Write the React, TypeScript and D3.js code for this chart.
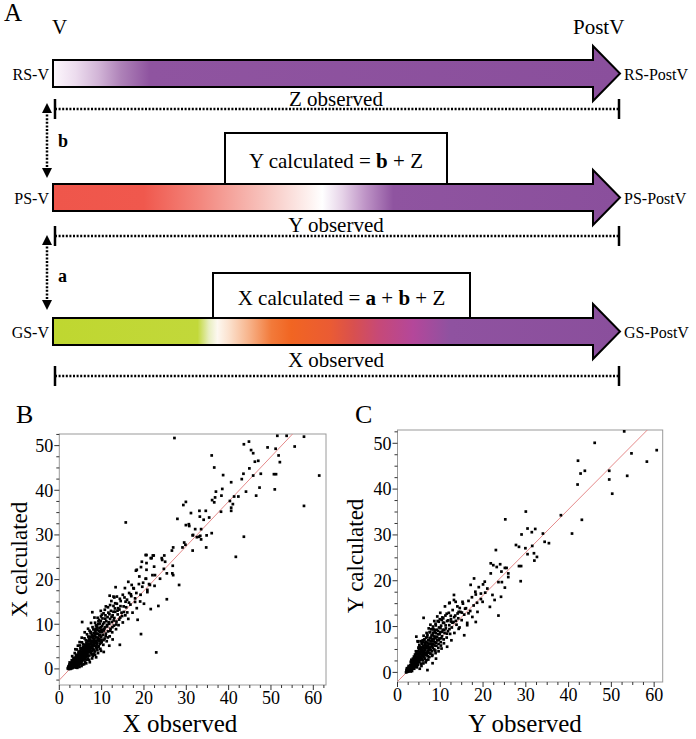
import React from 'react';
import * as d3 from 'd3';

const FONT = 'Liberation Serif';
const PURPLE = '#8a4f9c';

// ---------- Panel A content ----------
const STAGE_LABELS = ['V', 'PostV'];
const ROW_LEFT = ['RS-V', 'PS-V', 'GS-V'];
const ROW_RIGHT = ['RS-PostV', 'PS-PostV', 'GS-PostV'];
const ROW_OBSERVED = ['Z observed', 'Y observed', 'X observed'];
const STEP_LABELS = ['b', 'a'];

// gradient stops: [position along arrow 0..1, colour]
const RS_STOPS: [number, string][] = [
  [0, '#fdf8fd'], [0.04, '#ecdcee'], [0.08, '#d2b5d7'], [0.12, '#ae82b8'], [0.17, '#8f54a0'], [1, PURPLE],
];
const PS_STOPS: [number, string][] = [
  [0, '#ef564b'], [0.16, '#f0584d'], [0.26, '#f3877e'], [0.37, '#f7c2bc'], [0.45, '#fdf0ee'], [0.475, '#ffffff'],
  [0.51, '#e6d3e8'], [0.55, '#bf95c7'], [0.6, '#8f54a0'], [1, PURPLE],
];
const GS_STOPS: [number, string][] = [
  [0, '#bfd730'], [0.255, '#c2d83a'], [0.275, '#e8eec0'], [0.29, '#fdf8f0'], [0.31, '#fbe2cf'], [0.345, '#f7b48c'],
  [0.385, '#f27a3a'], [0.42, '#f16522'], [0.49, '#ea5b34'], [0.53, '#d8504f'], [0.575, '#c64978'], [0.635, '#b4479a'],
  [0.7, '#8f52a0'], [1, PURPLE],
];

// ---------- Scatter data ----------
const B_POINTS: [number, number][] = [
  [27.2,51.7],[15.7,32.8],[29.3,36.7],[29.9,37.4],[27.9,33.6],[31.1,34.9],[29.9,32.2],[30.6,32.4],[30.7,32.0],[31.6,30.0],
  [29.5,28.3],[29.8,27.8],[26.9,27.2],[29.1,27.2],[26.6,26.5],[31.5,26.5],[20.6,25.5],[22.3,25.4],[21.6,24.8],[24.2,24.8],[24.8,25.4],
  [51.5,52.2],[53.7,52.2],[57.8,52.0],[44.8,50.9],[43.6,50.3],[49.2,49.6],[55.6,49.8],[45.3,49.0],[45.8,48.3],[51.1,49.3],
  [51.8,47.8],[36.0,47.8],[46.2,46.4],[47.0,46.6],[52.1,46.3],[36.6,45.1],[44.9,44.9],[38.7,43.4],[43.5,43.7],[47.6,43.7],
  [45.8,43.3],[50.7,43.6],[51.2,43.6],[61.4,43.3],[43.1,42.5],[40.6,41.8],[38.5,40.3],[37.0,39.7],[44.1,39.7],[47.3,40.6],
  [50.9,40.2],[38.3,38.8],[36.8,38.4],[46.5,38.8],[41.3,38.6],[42.3,38.6],[36.1,37.8],[36.6,37.3],[40.3,37.6],[41.0,36.9],
  [40.6,36.1],[40.6,35.4],[57.8,36.5],[38.2,35.2],[33.1,35.4],[34.6,35.4],[33.2,34.1],[35.4,33.9],[34.1,33.4],[32.1,31.3],
  [33.5,31.3],[31.5,29.9],[32.5,29.5],[33.0,29.6],[33.3,29.8],[34.8,29.9],[36.0,30.4],[33.5,29.0],[43.6,29.6],[34.7,27.2],[41.7,25.1],
  [28.3,18.8],[19.3,7.8],[22.9,3.7],[25.4,15.6],[23.4,14.1],[14.3,5.4],[21.8,24.8],[24.3,24.4],[25.0,24.0],[26.7,21.4],[26.9,21.0],
  [18.1,22.0],[19.3,22.8],[20.6,22.2],[13.3,18.3],[11.9,16.4],[12.8,16.2],[5.4,10.5],[7.8,12.7],
  [20.4,25.5],[22.1,25.4],[19.5,24.0],[20.6,23.7],[22.4,22.9],[24.7,22.4],[22.6,21.0],[23.8,20.2],[25.4,21.4],[26.8,23.1],
  [18.3,22.2],[18.9,20.7],[20.5,20.2],[21.4,18.8],[20.8,17.7],[19.8,19.3],[17.5,18.1],[16.9,16.7],[17.9,15.8],[19.1,15.1],
  [18.3,13.6],[15.5,18.1],[15.0,16.6],[14.3,15.7],[16.3,19.5],[17.1,18.8],[13.6,16.2],[13.2,14.7],[13.9,13.6],[12.8,12.8],[12.0,14.3],
];
const B_CORE: [number, number][] = [
  [2.0,0.1],[2.1,0.3],[2.2,0.0],[2.3,0.5],[2.4,0.2],[2.5,0.8],[2.5,0.1],[2.6,0.4],[2.7,1.0],[2.8,0.3],[2.8,0.7],[2.9,1.3],
  [3.0,0.5],[3.0,1.0],[3.1,0.2],[3.2,1.5],[3.2,0.8],[3.3,1.1],[3.4,0.4],[3.4,1.8],[3.5,1.3],[3.5,0.7],[3.6,2.1],[3.6,1.0],
  [3.7,1.6],[3.8,0.6],[3.8,2.4],[3.9,1.3],[4.0,1.9],[4.0,1.0],[4.1,2.8],[4.1,0.5],[4.2,1.6],[4.3,2.2],[4.3,3.2],[4.4,1.2],
  [4.5,2.6],[4.5,1.8],[4.6,0.8],[4.6,3.5],[4.7,2.1],[4.8,2.9],[4.8,1.5],[4.9,4.0],[5.0,2.4],[5.0,3.3],[5.1,1.2],[5.1,2.0],
  [5.2,3.7],[5.3,2.8],[5.3,4.5],[5.4,1.8],[5.5,3.2],[5.5,2.4],[5.6,5.0],[5.6,3.9],[5.7,2.0],[5.8,3.5],[5.8,4.3],[5.9,2.8],
  [6.0,3.1],[6.0,5.4],[6.1,4.0],[6.1,1.6],[6.2,3.6],[6.3,4.7],[6.3,2.6],[6.4,5.9],[6.5,3.9],[6.5,3.2],[6.6,4.4],[6.7,6.3],
  [6.7,2.3],[6.8,5.1],[6.9,3.7],[7.0,4.6],[7.0,6.8],[7.1,3.0],[7.2,5.5],[7.2,4.1],[7.3,7.2],[7.4,5.0],[7.5,3.6],[7.5,6.1],
  [7.6,4.6],[7.7,7.6],[7.8,5.4],[7.9,2.9],[8.0,6.0],[8.0,4.4],[8.1,8.0],[8.2,5.6],[8.3,6.8],[8.4,3.9],[8.5,5.2],[8.5,7.4],
  [8.6,9.0],[8.7,6.3],[8.8,4.6],[8.9,7.9],[9.0,5.8],[9.0,8.7],[9.1,6.8],[9.2,10.0],[9.3,5.1],[9.4,7.5],[9.5,9.2],[9.5,6.3],
  [9.6,8.2],[9.7,4.5],[9.8,10.7],[9.9,7.2],[10.0,8.8],[10.0,6.0],[10.1,9.6],[10.2,11.3],[10.3,7.6],[10.4,5.4],[10.5,8.6],
  [10.6,10.4],[10.7,6.8],[10.8,9.3],[10.9,12.0],[11.0,7.9],[11.1,10.7],[11.2,6.2],[11.3,9.5],[11.4,11.6],[11.5,8.4],[11.6,12.6],
  [11.8,10.1],[11.9,7.3],[12.0,11.2],[12.1,9.0],[12.2,13.0],[12.4,10.5],[12.5,8.2],[12.6,12.0],[12.8,14.1],[12.9,9.7],[13.0,11.4],
  [13.2,12.8],[13.4,8.9],[13.5,10.6],[13.6,14.6],[13.8,12.2],[14.0,9.8],[14.2,13.3],[14.4,11.5],[14.5,15.2],[14.7,12.6],[15.0,10.4],
  [15.2,14.0],[15.4,16.0],[15.6,12.0],[15.8,13.8],[16.0,15.5],[16.3,11.2],[16.5,17.0],[16.8,14.4],[17.0,16.3],[17.3,12.6],[17.6,18.0],
  [17.9,15.0],[18.2,17.0],[18.5,11.0],[18.8,19.0],[19.2,16.6],[19.6,18.4],[20.0,14.6],[20.4,20.2],[20.8,17.2],[21.2,19.0],[21.6,13.4],
  [22.0,21.0],[22.5,18.6],
  [2.2,0.6],[2.4,1.0],[2.6,0.0],[2.9,0.2],[3.1,1.7],[3.3,0.6],[3.5,2.0],[3.7,0.9],[3.9,2.6],[4.0,0.3],[4.2,2.3],[4.4,3.0],
  [4.5,1.4],[4.7,3.8],[4.9,1.9],[5.0,4.6],[5.2,2.6],[5.4,3.4],[5.5,1.0],[5.7,4.8],[5.9,3.8],[6.0,2.2],[6.2,5.0],[6.4,3.4],
  [6.6,5.6],[6.8,2.8],[6.9,4.8],[7.1,6.3],[7.3,3.8],[7.4,8.0],[7.6,5.6],[7.8,4.0],[8.0,7.0],[8.2,3.4],[8.4,8.6],[8.6,5.8],
  [8.8,9.6],[9.0,4.2],[9.2,7.0],[9.4,11.0],[9.6,5.6],[9.8,8.6],[4.8,6.0],[5.3,7.0],[6.0,8.2],[6.8,9.0],[7.5,10.3],[8.3,11.5],
  [3.8,4.4],[4.4,5.2],[9.8,13.0],[11.0,14.0],[10.5,3.8],[11.8,5.2],[12.6,6.6],[8.7,2.6],[7.2,1.5],[11.5,13.8],[12.3,15.2],[13.0,16.0],
  [2.15,0.25],[2.35,0.75],[2.55,0.45],[2.75,0.15],[2.85,1.15],[3.05,0.75],[3.15,1.35],[3.25,0.35],[3.45,1.05],[3.55,1.65],
  [3.65,0.45],[3.75,1.95],[3.85,1.05],[3.95,1.75],[4.05,2.25],[4.15,1.25],[4.25,2.75],[4.35,0.95],[4.45,2.15],[4.55,3.15],
  [4.65,1.65],[4.75,2.55],[4.85,3.35],[4.95,1.25],[5.05,2.85],[5.15,3.65],[5.25,1.55],[5.35,3.05],[5.45,4.05],[5.55,2.15],
  [5.65,3.45],[5.75,4.45],[5.85,2.45],[5.95,4.85],[6.05,3.55],[6.15,2.85],[6.25,4.35],[6.35,5.25],[6.45,2.05],[6.55,4.65],
  [6.65,3.45],[6.75,5.65],[6.85,4.15],[6.95,6.15],[7.05,5.15],[7.15,3.95],[7.25,6.55],[7.35,4.55],[7.45,5.75],[7.55,7.05],
  [7.65,3.25],[7.75,6.35],[7.85,4.85],[7.95,7.35],[8.05,5.25],[8.15,6.55],[8.25,4.25],[8.35,7.85],[8.45,6.05],[8.55,8.35],
  [8.65,4.85],[8.75,7.05],[8.85,5.45],[8.95,9.25],[9.05,6.35],[9.15,7.85],[9.25,4.85],[9.35,8.55],[9.45,6.65],[9.55,10.15],
  [9.65,7.55],[9.75,5.85],[9.85,9.35],[9.95,6.55],[10.15,8.25],[10.35,10.05],[10.45,6.45],[10.65,8.95],[10.85,11.25],[10.95,7.35],
  [11.25,9.85],[11.45,7.05],[11.65,10.45],[11.85,12.25],[12.05,8.55],[12.35,11.65],[12.55,9.35],[12.85,10.85],[13.15,13.55],
  [13.45,9.95],[13.75,13.05],[14.15,11.05],[14.45,14.05],[14.85,11.85],[15.25,12.75],[15.65,15.05],[16.05,12.65],[16.45,14.85],
  [3.35,2.45],[3.95,3.05],[4.55,3.85],[5.15,4.55],[5.65,5.55],[6.25,6.45],[6.85,7.25],[7.45,8.25],[8.05,8.85],[8.65,9.75],
  [9.25,10.65],[9.85,11.75],[10.45,12.45],[2.45,1.45],[2.95,1.95],[3.05,2.85],[3.65,3.55],[4.15,4.35],[4.85,5.25],[5.35,5.95],
  [5.95,6.85],[6.55,7.75],[7.15,8.55],[7.85,9.35],[8.45,10.35],[9.05,11.45],[10.05,12.15],[10.75,13.25],[6.35,1.25],[7.05,2.05],
  [7.75,2.35],[8.45,3.15],[9.15,3.55],[9.85,4.05],[5.85,1.05],[5.25,0.65],[4.75,0.45],[4.25,0.25],
];
const C_POINTS: [number, number][] = [
  [53.0,52.6],[46.1,50.1],[60.6,48.5],[54.7,47.8],[58.3,46.0],[42.2,46.2],[42.8,43.4],[43.8,44.0],[49.5,44.0],[53.7,42.9],
  [49.5,42.1],[42.1,41.0],[50.2,39.0],[43.1,33.3],[38.2,34.3],[40.8,30.3],[30.0,35.1],[25.2,33.4],[30.4,31.4],[32.2,31.3],
  [31.4,30.6],[29.0,30.1],[34.0,30.3],[34.4,28.5],[35.4,28.2],[27.7,27.8],[28.4,27.4],[31.5,27.6],[29.9,27.1],[30.4,25.8],
  [31.9,26.0],[32.6,25.2],[32.0,24.4],[28.4,23.2],[28.9,23.2],[28.8,19.9],[23.0,26.7],[25.1,22.8],[25.5,22.8],[25.9,21.6],
  [25.9,20.8],[21.8,23.8],[24.0,23.6],[22.4,23.4],[23.2,23.0],[24.3,22.0],[23.6,19.7],[24.4,19.7],[25.1,18.5],[21.8,21.6],[23.6,12.4],
  [20.4,19.8],[21.0,18.3],[22.2,16.9],[21.6,14.3],[22.7,15.8],[24.2,16.5],[17.9,20.5],[19.5,17.2],[19.9,15.4],[18.3,17.0],
  [17.1,19.1],[16.6,12.9],[15.2,15.4],[15.8,13.9],[14.3,13.2],[13.6,15.4],[13.2,16.9],[12.1,15.1],[11.5,12.8],[12.5,11.1],
  [15.6,8.1],[14.3,9.5],[16.3,10.3],[17.5,12.1],[18.3,11.0],[18.7,13.2],
];
const C_CORE: [number, number][] = [
  [2.0,0.0],[2.1,0.4],[2.2,0.1],[2.3,0.7],[2.4,0.3],[2.5,1.0],[2.6,0.2],[2.7,0.6],[2.8,1.3],[2.9,0.4],[3.0,0.9],[3.0,1.6],
  [3.1,0.2],[3.2,1.2],[3.3,2.0],[3.3,0.6],[3.4,1.5],[3.5,2.4],[3.5,0.9],[3.6,1.9],[3.7,1.1],[3.7,2.8],[3.8,1.6],[3.9,2.2],
  [4.0,3.2],[4.0,1.2],[4.1,2.6],[4.2,1.8],[4.2,3.6],[4.3,2.2],[4.4,1.4],[4.4,4.0],[4.5,2.9],[4.6,2.0],[4.6,3.4],[4.7,4.6],
  [4.8,2.5],[4.8,1.6],[4.9,3.8],[5.0,3.0],[5.0,5.0],[5.1,2.2],[5.2,4.2],[5.3,3.4],[5.3,5.6],[5.4,2.7],[5.5,4.6],[5.5,1.9],
  [5.6,3.8],[5.7,6.2],[5.7,3.0],[5.8,5.0],[5.9,4.1],[6.0,2.6],[6.0,6.6],[6.1,3.5],[6.2,5.4],[6.2,4.4],[6.3,7.2],[6.4,3.0],
  [6.5,5.9],[6.5,4.8],[6.6,3.8],[6.7,7.6],[6.8,5.3],[6.9,4.3],[7.0,6.4],[7.0,8.2],[7.1,3.5],[7.2,5.8],[7.3,4.8],[7.4,7.0],
  [7.5,8.8],[7.5,5.2],[7.6,6.2],[7.7,4.1],[7.8,7.6],[7.9,9.4],[8.0,5.7],[8.0,6.8],[8.1,4.6],[8.2,8.2],[8.3,10.0],[8.4,6.2],
  [8.5,7.3],[8.6,5.0],[8.7,8.8],[8.8,6.6],[8.9,10.6],[9.0,7.8],[9.1,5.8],[9.2,9.3],[9.3,7.0],[9.4,11.2],[9.5,8.3],[9.6,6.2],
  [9.7,9.8],[9.8,7.4],[9.9,11.6],[10.0,8.8],[10.1,6.6],[10.2,10.2],[10.4,7.9],[10.5,12.0],[10.6,9.3],[10.8,7.2],[10.9,10.8],
  [11.0,8.6],[11.2,12.4],[11.3,9.6],[11.5,7.6],[11.6,11.2],[11.8,9.0],[12.0,13.0],[12.1,10.3],[12.3,8.4],[12.5,11.6],[12.7,9.8],
  [12.9,13.6],[13.1,11.0],[13.3,8.6],[13.5,12.4],[13.8,10.4],[14.0,14.4],[14.2,11.8],[14.5,9.8],[14.7,13.2],[15.0,11.4],[15.3,15.0],
  [15.6,12.6],[16.0,14.0],[16.3,10.8],[16.6,15.6],[17.0,13.4],[17.4,16.4],[17.8,14.6],[18.2,17.6],[18.6,15.2],[19.0,18.6],
  [19.5,16.0],[20.0,19.2],[20.5,17.4],
  [2.2,0.9],[2.6,1.4],[3.1,2.3],[3.4,0.3],[3.6,3.0],[3.9,0.8],[4.1,3.9],[4.3,4.6],[4.5,1.1],[4.9,5.4],[5.1,6.0],[5.4,6.8],
  [5.6,1.4],[5.9,7.0],[6.1,8.0],[6.4,6.5],[6.6,2.2],[6.8,8.6],[7.2,2.8],[7.3,9.6],[7.7,10.4],[8.1,3.6],[8.4,9.4],[8.6,11.2],
  [8.9,4.2],[9.3,12.2],[9.6,4.6],[10.0,13.0],[10.3,5.2],[10.7,11.8],[11.1,14.4],[11.6,5.6],[12.2,15.2],[12.6,7.0],[13.2,15.8],
  [4.4,7.8],[4.7,6.8],[6.1,11.9],[4.8,6.7],[7.0,0.5],[8.2,2.0],[5.2,0.8],[9.0,3.0],
  [2.15,0.55],[2.35,0.15],[2.45,0.85],[2.65,0.55],[2.75,1.05],[2.95,0.65],[3.05,1.25],[3.15,0.85],[3.25,1.65],[3.35,1.05],
  [3.45,1.95],[3.55,1.25],[3.65,2.35],[3.75,1.45],[3.85,2.65],[3.95,1.85],[4.05,2.45],[4.15,1.55],[4.25,3.05],[4.35,2.05],
  [4.45,3.35],[4.55,2.45],[4.65,1.75],[4.75,3.05],[4.85,4.05],[4.95,2.65],[5.05,3.55],[5.15,4.45],[5.25,2.95],[5.35,4.05],
  [5.45,5.05],[5.55,3.25],[5.65,4.35],[5.75,5.45],[5.85,3.55],[5.95,4.75],[6.05,5.85],[6.15,4.05],[6.25,3.25],[6.35,5.05],
  [6.45,6.25],[6.55,4.25],[6.65,5.45],[6.75,6.65],[6.85,3.75],[6.95,5.85],[7.05,4.65],[7.15,7.05],[7.25,5.25],[7.35,6.25],
  [7.45,4.25],[7.55,7.45],[7.65,5.45],[7.75,6.75],[7.85,4.85],[7.95,8.05],[8.05,6.15],[8.15,7.25],[8.25,5.35],[8.35,8.65],
  [8.45,6.75],[8.55,7.85],[8.65,5.85],[8.75,9.25],[8.85,7.45],[8.95,8.55],[9.05,6.45],[9.25,7.65],[9.45,9.05],[9.65,7.05],
  [9.85,8.35],[10.05,9.65],[10.25,7.45],[10.45,8.85],[10.65,10.85],[10.95,9.25],[11.25,10.25],[11.55,8.45],[11.85,11.35],
  [12.15,9.45],[12.45,12.35],[12.85,10.85],[13.25,12.05],[13.65,11.25],[14.05,12.85],[14.55,14.05],[15.05,13.05],
  [3.25,2.75],[3.85,3.45],[4.45,4.45],[5.05,5.45],[5.65,6.55],[6.25,7.05],[6.95,7.75],[7.65,8.75],[8.25,9.45],[8.95,10.25],
  [9.65,11.05],[10.35,11.45],[6.05,1.95],[6.75,2.65],[7.45,3.35],[8.15,3.85],[8.85,4.75],[9.55,5.35],[10.15,5.85],[10.85,6.35],
];

// fitted lines: [intercept, slope]
const B_FIT: [number, number] = [-2.5, 1.0];
const C_FIT: [number, number] = [-2.0, 0.94];

const X_TICKS = [0, 10, 20, 30, 40, 50, 60];
const Y_TICKS = [0, 10, 20, 30, 40, 50];

// ---------- Panel A pieces ----------
const AX0 = 53, AX1 = 593, ATIP = 620;
const TXT = { fontFamily: FONT };

function Arrow({ cy, id }: { cy: number; id: string }) {
  const h = 13.5, hh = 27.5;
  const pts = [
    [AX0, cy - h], [AX1, cy - h], [AX1, cy - hh], [ATIP, cy], [AX1, cy + hh], [AX1, cy + h], [AX0, cy + h],
  ];
  return <polygon points={pts.map(p => p.join(',')).join(' ')} fill={`url(#${id})`} stroke="#000" strokeWidth={2} strokeLinejoin="miter" />;
}

function Grad({ id, stops }: { id: string; stops: [number, string][] }) {
  return (
    <linearGradient id={id} gradientUnits="userSpaceOnUse" x1={AX0} y1={0} x2={ATIP} y2={0}>
      {stops.map(([o, c], i) => <stop key={i} offset={o} stopColor={c} />)}
    </linearGradient>
  );
}

function Observed({ y, label, ty }: { y: number; label: string; ty: number }) {
  return (
    <g>
      <line x1={55} x2={619} y1={y} y2={y} stroke="#000" strokeWidth={2.5} strokeDasharray="2 1.6" />
      <line x1={55} x2={55} y1={y - 10} y2={y + 10} stroke="#000" strokeWidth={2.5} />
      <line x1={619} x2={619} y1={y - 10} y2={y + 10} stroke="#000" strokeWidth={2.5} />
      <text x={336} y={ty} textAnchor="middle" fontSize={21} style={TXT}>{label}</text>
    </g>
  );
}

function VArrow({ y0, y1, label, ly }: { y0: number; y1: number; label: string; ly: number }) {
  const x = 47;
  return (
    <g>
      <line x1={x} x2={x} y1={y0 + 8} y2={y1 - 8} stroke="#000" strokeWidth={2.5} strokeDasharray="2 1.6" />
      <polygon points={`${x},${y0} ${x - 5},${y0 + 10} ${x + 5},${y0 + 10}`} fill="#000" />
      <polygon points={`${x},${y1} ${x - 5},${y1 - 10} ${x + 5},${y1 - 10}`} fill="#000" />
      <text x={58} y={ly} fontSize={18} fontWeight="bold" style={TXT}>{label}</text>
    </g>
  );
}

// ---------- Scatter panel ----------
type SP = {
  left: number; right: number; top: number; bottom: number;
  xDomain: [number, number]; yDomain: [number, number];
  points: [number, number][]; core: [number, number][]; fit: [number, number];
  xTitle: string; yTitle: string; letter: string; letterX: number; yTitleX: number; xTitleX: number; id: string;
};

function Scatter(p: SP) {
  const x = d3.scaleLinear().domain(p.xDomain).range([p.left, p.right]);
  const y = d3.scaleLinear().domain(p.yDomain).range([p.bottom, p.top]);
  const xMinor = d3.range(2.5, p.xDomain[1], 2.5).filter(v => v % 10 !== 0);
  const yMinor = d3.range(-2.5, p.yDomain[1], 2.5).filter(v => v % 10 !== 0 && v >= p.yDomain[0]);
  const [a, b] = p.fit;
  let fx0 = p.xDomain[0];
  if (a + b * fx0 < p.yDomain[0]) fx0 = (p.yDomain[0] - a) / b;
  const fx1 = Math.min(p.xDomain[1], (p.yDomain[1] - a) / b);
  const tickCol = '#333';
  const s = 2.7;
  return (
    <g style={TXT}>
      <text x={p.letterX} y={423} fontSize={26} style={TXT}>{p.letter}</text>
      <rect x={p.left} y={p.top} width={p.right - p.left} height={p.bottom - p.top} fill="#fff" stroke="#9a9a9a" strokeWidth={1} />
      {X_TICKS.map(t => (
        <g key={'xt' + t}>
          <line x1={x(t)} x2={x(t)} y1={p.bottom} y2={p.bottom + 5} stroke={tickCol} />
          <text x={x(t)} y={p.bottom + 19} textAnchor="middle" fontSize={18} style={TXT}>{t}</text>
        </g>
      ))}
      {xMinor.map(t => <line key={'xm' + t} x1={x(t)} x2={x(t)} y1={p.bottom} y2={p.bottom + 3} stroke={tickCol} />)}
      {Y_TICKS.map(t => (
        <g key={'yt' + t}>
          <line x1={p.left - 5} x2={p.left} y1={y(t)} y2={y(t)} stroke={tickCol} />
          <text x={p.left - 6} y={y(t)} dy="0.35em" textAnchor="end" fontSize={18} style={TXT}>{t}</text>
        </g>
      ))}
      {yMinor.map(t => <line key={'ym' + t} x1={p.left - 3} x2={p.left} y1={y(t)} y2={y(t)} stroke={tickCol} />)}
      <clipPath id={p.id}><rect x={p.left} y={p.top} width={p.right - p.left} height={p.bottom - p.top} /></clipPath>
      <g clipPath={`url(#${p.id})`}>
        <line x1={x(fx0)} y1={y(a + b * fx0)} x2={x(fx1)} y2={y(a + b * fx1)} stroke="#e58a8a" strokeWidth={1} />
        {p.core.concat(p.points).map((d, i) => (
          <rect key={i} x={x(d[0]) - s / 2} y={y(d[1]) - s / 2} width={s} height={s} fill="#000" />
        ))}
      </g>
      <text x={p.xTitleX} y={732} textAnchor="middle" fontSize={25} style={TXT}>{p.xTitle}</text>
      <text transform={`translate(${p.yTitleX},${(p.top + p.bottom) / 2}) rotate(-90)`} textAnchor="middle" fontSize={23} style={TXT}>{p.yTitle}</text>
    </g>
  );
}

export default function App() {
  const rowsY = [73.5, 197.5, 331.5];
  const gradIds = ['gRS', 'gPS', 'gGS'];
  const obsY = [109, 236, 376];
  const obsTextY = [106, 232, 367];
  return (
    <svg width={696} height={739} style={{ position: 'absolute', left: 0, top: 0, background: '#fff', fontFamily: FONT }}>
      <defs>
        <Grad id="gRS" stops={RS_STOPS} />
        <Grad id="gPS" stops={PS_STOPS} />
        <Grad id="gGS" stops={GS_STOPS} />
      </defs>
      <rect width={696} height={739} fill="#fff" />
      <text x={4} y={21} fontSize={25} style={TXT}>A</text>
      <text x={52} y={34} fontSize={21} style={TXT}>{STAGE_LABELS[0]}</text>
      <text x={573} y={34} fontSize={21} style={TXT}>{STAGE_LABELS[1]}</text>

      {/* calculated boxes */}
      <rect x={225} y={133} width={222} height={52} fill="#fff" stroke="#000" strokeWidth={2} />
      <text x={336} y={168} textAnchor="middle" fontSize={21} style={TXT}>
        Y calculated = <tspan fontWeight="bold">b</tspan> + Z
      </text>
      <rect x={213} y={273} width={257} height={46} fill="#fff" stroke="#000" strokeWidth={2} />
      <text x={341.5} y={305} textAnchor="middle" fontSize={21} style={TXT}>
        X calculated = <tspan fontWeight="bold">a</tspan> + <tspan fontWeight="bold">b</tspan> + Z
      </text>

      {rowsY.map((cy, i) => (
        <g key={i}>
          <Arrow cy={cy} id={gradIds[i]} />
          <text x={49} y={cy + 1} textAnchor="end" dominantBaseline="central" fontSize={16} style={TXT}>{ROW_LEFT[i]}</text>
          <text x={624} y={cy + 1} dominantBaseline="central" fontSize={16} style={TXT}>{ROW_RIGHT[i]}</text>
          <Observed y={obsY[i]} label={ROW_OBSERVED[i]} ty={obsTextY[i]} />
        </g>
      ))}
      <VArrow y0={103} y1={178} label={STEP_LABELS[0]} ly={147} />
      <VArrow y0={235} y1={310} label={STEP_LABELS[1]} ly={282} />

      <Scatter left={59.3} right={326} top={434} bottom={685} xDomain={[0, 63]} yDomain={[-3.6, 52.6]}
        points={B_POINTS} core={B_CORE} fit={B_FIT} xTitle="X observed" yTitle="X calculated" letter="B" letterX={16} yTitleX={27} xTitleX={180} id="clipB" />
      <Scatter left={397.5} right={662.7} top={430} bottom={682} xDomain={[0, 62]} yDomain={[-2.1, 52.9]}
        points={C_POINTS} core={C_CORE} fit={C_FIT} xTitle="Y observed" yTitle="Y calculated" letter="C" letterX={355} yTitleX={363} xTitleX={525} id="clipC" />
    </svg>
  );
}
